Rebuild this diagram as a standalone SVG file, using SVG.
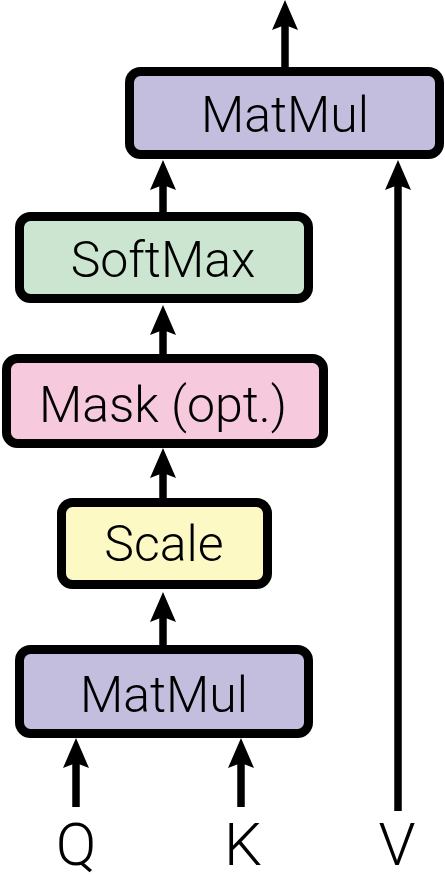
<svg xmlns="http://www.w3.org/2000/svg" width="445" height="884" viewBox="0 0 445 884">
<style>
.box{stroke:#000;stroke-width:9}
.lbl{font-family:Roboto,"Liberation Sans",sans-serif;font-weight:300;font-size:50px;fill:#000;text-anchor:middle}
.io{font-size:60px}
.conn{stroke:#000;stroke-width:7.5;fill:none}
</style>
<defs>
<marker id="ah" markerUnits="userSpaceOnUse" markerWidth="31" markerHeight="26" refX="15" refY="13" orient="auto" viewBox="0 0 31 26">
<path d="M0,0 L30,13 L0,26 L5,13 z" fill="#000"/>
</marker>
</defs>
<rect width="445" height="884" fill="#fff"/>
<g id="connectors">
<line class="conn" x1="285" y1="67" x2="285" y2="15" marker-end="url(#ah)"/>
<line class="conn" x1="163" y1="212" x2="163" y2="175" marker-end="url(#ah)"/>
<line class="conn" x1="398" y1="811" x2="398" y2="175" marker-end="url(#ah)"/>
<line class="conn" x1="163" y1="355" x2="163" y2="320" marker-end="url(#ah)"/>
<line class="conn" x1="163" y1="498" x2="163" y2="463" marker-end="url(#ah)"/>
<line class="conn" x1="163" y1="646" x2="163" y2="607" marker-end="url(#ah)"/>
<line class="conn" x1="76" y1="807" x2="76" y2="753" marker-end="url(#ah)"/>
<line class="conn" x1="241" y1="807" x2="241" y2="753" marker-end="url(#ah)"/>
</g>
<g id="matmul-top">
<rect class="box" x="129.5" y="71.5" width="310" height="83" rx="11" fill="#c3bdde"/>
<text class="lbl" x="285" y="132">MatMul</text>
</g>
<g id="softmax">
<rect class="box" x="19.5" y="216.5" width="289" height="82" rx="11" fill="#cbe5d1"/>
<text class="lbl" x="163" y="277">SoftMax</text>
</g>
<g id="mask">
<rect class="box" x="6.5" y="358.5" width="317" height="85" rx="11" fill="#f7c9dd"/>
<text class="lbl" x="163" y="422">Mask (opt.)</text>
</g>
<g id="scale">
<rect class="box" x="61.5" y="502.5" width="206" height="82" rx="11" fill="#fdf9c5"/>
<text class="lbl" x="164" y="561">Scale</text>
</g>
<g id="matmul-bottom">
<rect class="box" x="19.5" y="649.5" width="289" height="84" rx="11" fill="#c3bdde"/>
<text class="lbl" x="164" y="712">MatMul</text>
</g>
<g id="inputs">
<text class="lbl io" x="76" y="865">Q</text>
<text class="lbl io" x="243" y="865">K</text>
<text class="lbl io" x="397" y="865">V</text>
</g>
</svg>
